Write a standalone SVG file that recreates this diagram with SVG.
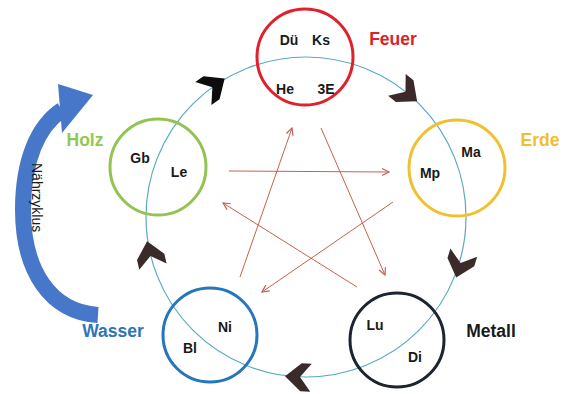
<svg xmlns="http://www.w3.org/2000/svg" width="564" height="394" viewBox="0 0 564 394">
<style>
  .lbl{font-family:"Liberation Sans",Arial,sans-serif;font-weight:bold;font-size:14px;fill:#1a1a1a;text-anchor:middle}
  .el{font-family:"Liberation Sans",Arial,sans-serif;font-weight:bold;font-size:17.5px;text-anchor:middle}
  .node{fill:none;stroke-width:3}
  .ctrl{stroke:#c8604f;stroke-width:1;fill:none;marker-end:url(#ah)}
  .chev{fill:#3b2a2a}
</style>
<defs>
  <marker id="ah" markerUnits="userSpaceOnUse" markerWidth="12" markerHeight="12" refX="0" refY="0" viewBox="-9 -6 12 12" orient="auto" overflow="visible">
    <path d="M-7,-3.5 L0,0 L-7,3.5" fill="none" stroke="#c8604f" stroke-width="1.2"/>
  </marker>
  <path id="chv" d="M13,0 L-3,-14 L-13,-14 L-2,0 L-13,14 L-3,14 Z"/>
</defs>
<rect width="564" height="394" fill="#ffffff"/>

<g id="cycle">
  <circle cx="306" cy="217" r="160" fill="none" stroke="#5aaac2" stroke-width="1.2"/>
  <use href="#chv" transform="translate(214,86) rotate(-35)" fill="#0d0d0d"/>
  <use href="#chv" class="chev" transform="translate(407,93) rotate(39)"/>
  <use href="#chv" class="chev" transform="translate(460,265) rotate(107)"/>
  <use href="#chv" class="chev" transform="translate(298,377) rotate(183)"/>
  <use href="#chv" class="chev" transform="translate(150,254) rotate(257)"/>
</g>

<g id="connectors">
  <line class="ctrl" x1="229" y1="171" x2="389" y2="172"/>
  <line class="ctrl" x1="240" y1="277" x2="292" y2="128"/>
  <line class="ctrl" x1="321" y1="128" x2="385" y2="275"/>
  <line class="ctrl" x1="393" y1="202" x2="262" y2="292"/>
  <line class="ctrl" x1="357" y1="287" x2="223" y2="203"/>
</g>

<g id="naehrzyklus">
  <path d="M98,315 C50,312 23,270 23,210 C23,160 38,126 62,110" fill="none" stroke="#4677c8" stroke-width="16"/>
  <polygon points="58,84 93,95 62,133" fill="#4677c8"/>
  <text transform="translate(32,163) rotate(90)" font-family="'Liberation Sans',Arial,sans-serif" font-size="14" fill="#1a1a1a">Nährzyklus</text>
</g>

<g id="feuer">
  <circle class="node" cx="305" cy="57" r="48" stroke="#e0202a"/>
  <text class="lbl" x="289" y="45">Dü</text>
  <text class="lbl" x="321" y="45">Ks</text>
  <text class="lbl" x="285" y="94">He</text>
  <text class="lbl" x="326" y="94">3E</text>
  <text class="el" x="393" y="45" fill="#d9232b">Feuer</text>
</g>

<g id="holz">
  <circle class="node" cx="158" cy="167" r="48" stroke="#92c353"/>
  <text class="lbl" x="140" y="163">Gb</text>
  <text class="lbl" x="179" y="177">Le</text>
  <text class="el" x="85" y="146" fill="#92c84f">Holz</text>
</g>

<g id="erde">
  <circle class="node" cx="457" cy="168" r="48" stroke="#f0c12e"/>
  <text class="lbl" x="471" y="157">Ma</text>
  <text class="lbl" x="430" y="178">Mp</text>
  <text class="el" x="540" y="146" fill="#f0c02c">Erde</text>
</g>

<g id="wasser">
  <circle class="node" cx="210" cy="335" r="47" stroke="#2476bd"/>
  <text class="lbl" x="225" y="332">Ni</text>
  <text class="lbl" x="190" y="353">Bl</text>
  <text class="el" x="113" y="337" fill="#2e75b6">Wasser</text>
</g>

<g id="metall">
  <circle class="node" cx="397" cy="340" r="47" stroke="#1c2430"/>
  <text class="lbl" x="375" y="330">Lu</text>
  <text class="lbl" x="415" y="362">Di</text>
  <text class="el" x="491" y="337" fill="#1a1a1a" font-size="19">Metall</text>
</g>
</svg>
